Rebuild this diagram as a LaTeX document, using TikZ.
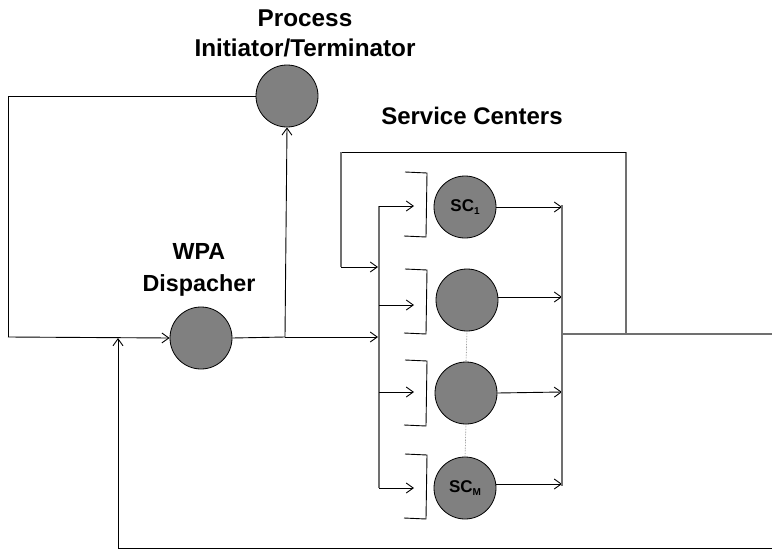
\documentclass[tikz,border=0pt]{standalone}
\usepackage{fontspec}
\setmainfont{Liberation Sans}
\usetikzlibrary{arrows.meta}
\definecolor{discfill}{HTML}{808080}
\definecolor{wire}{HTML}{707070}
\newcommand{\lowsub}[1]{\raisebox{-3.5pt}{\fontsize{10}{10}\selectfont #1}}
\begin{document}
\begin{tikzpicture}[x=1pt,y=-1pt,
  disc/.style={circle,draw=black,line width=0.8pt,fill=discfill,minimum size=62pt,inner sep=0pt,font=\bfseries\fontsize{17}{17}\selectfont},
  lbl/.style={font=\bfseries\fontsize{24.3}{30}\selectfont,align=center},
  flow/.style={line width=0.9pt,-{Straight Barb[length=7pt,width=10pt,line width=0.9pt]}},
  ln/.style={line width=0.9pt},
  gln/.style={line width=1.3pt,draw=wire},
  queue/.style={line width=0.9pt},
  dots/.style={densely dotted,line width=0.6pt,draw=wire}]
\useasboundingbox (0,0) rectangle (772,557);

% labels
\node[lbl] (tproc) at (305,33) {Process\\Initiator/Terminator};
\node[lbl,font=\bfseries\fontsize{23.3}{32}\selectfont] (twpa) at (199,270) {WPA\\Dispacher};
\node[lbl,font=\bfseries\fontsize{24}{26}\selectfont] (tsc) at (472,116) {Service Centers};

% stations
\node[disc] (proc) at (287,96) {};
\node[disc] (wpa) at (201,338) {};
\node[disc] (sc1) at (465,207) {SC\lowsub{1}};
\node[disc] (sc2) at (467,300) {};
\node[disc] (sc3) at (466,393) {};
\node[disc] (scm) at (465,488) {SC\lowsub{M}};

% junction points
\coordinate (lt) at (8,96);
\coordinate (lb) at (8,337);
\coordinate (tap) at (285,337);
\coordinate (din) at (378,337);
\coordinate (rb) at (118,548);
\coordinate (rin) at (118,338);
\coordinate (rend) at (772,548);
\coordinate (dtop) at (379,206);
\coordinate (dbot) at (379,488);
\coordinate (ctop) at (562,205);
\coordinate (cbot) at (562,486);
\coordinate (cout) at (562,334);
\coordinate (oend) at (772,334);
\coordinate (fb1) at (626,334);
\coordinate (fb2) at (626,152);
\coordinate (fb3) at (341,152);
\coordinate (fb4) at (341,267);
\coordinate (fbin) at (378,267);

% initiator loop into dispatcher
\draw[ln] (proc.west) -- (lt) -- (lb);
\draw[flow] (lb) -- (wpa.west);
\draw[flow] (rend) -- (rb) -- (rin);
\draw[ln] (wpa.east) -- (tap);
\draw[flow] (tap) -- (din);
\draw[flow] (tap) -- (proc.south);

% feedback from service centres
\draw[gln] (fb1) -- (fb2);
\draw[ln] (fb2) -- (fb3);
\draw[gln] (fb3) -- (fb4);
\draw[flow] (fb4) -- (fbin);

% distribution bar and branches
\draw[gln] (dtop) -- (dbot);
\foreach \y in {206,305,392,488}
  \draw[flow] (379,\y) -- (414,\y);

% queues
\foreach \a/\b in {172/237,269/334,360/426,454/519}
  \draw[queue] (405,\a) -- (427,\a+1) -- (426,\b) -- (404,\b-1);

% dotted continuation
\draw[dots] (sc2.south) -- (sc3.north);
\draw[dots] (sc3.south) -- (scm.north);

% outputs to collector
\draw[flow] (sc1.east) -- (ctop |- sc1.east);
\draw[flow] (sc2.east |- 0,297) -- (562,297);
\draw[flow] (sc3.east) -- (562,392);
\draw[flow] (scm.east |- 0,484) -- (562,484);
\draw[gln] (ctop) -- (cbot);
\draw[gln] (cout) -- (oend);
\end{tikzpicture}
\end{document}
